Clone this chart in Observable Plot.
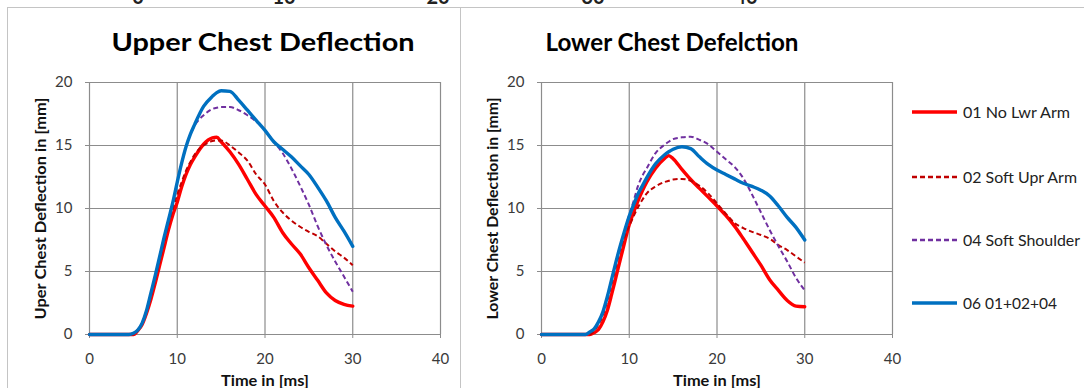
<!DOCTYPE html>
<html><head><meta charset="utf-8">
<script src="https://cdn.jsdelivr.net/npm/d3@7"></script>
<script src="https://cdn.jsdelivr.net/npm/@observablehq/plot@0.6"></script>
<style>
body{margin:0;background:#fff;}
#root{position:relative;width:1084px;height:388px;overflow:hidden;background:#fff;font-family:Lato,sans-serif;}
.panel{position:absolute;border:1px solid #c4c4c4;box-sizing:border-box;}
.abs{position:absolute;}
</style></head><body><div id="root"></div>
<script>
// ---- data ----
const time = [0,4.5,5,5.5,6,6.5,7,7.5,8,8.5,9,9.5,10,10.5,11,11.5,12,13,14,14.5,15,16,17,18,19,20,21,22,23,24,25,26,27,28,29,30];

const upper01 = [0,0,0,0.3,0.8,1.7,2.8,4.1,5.5,6.9,8.3,9.5,10.5,11.7,12.7,13.5,14.1,15.1,15.6,15.65,15.3,14.5,13.5,12.3,11.1,10.2,9.3,8.1,7.2,6.4,5.3,4.3,3.3,2.7,2.4,2.25];
const upper02 = [0,0,0,0.3,0.9,1.8,3.0,4.4,5.8,7.3,8.7,10.0,11.1,12.1,13.0,13.7,14.3,15.0,15.35,15.4,15.4,15.0,14.45,13.8,12.7,11.9,10.6,9.7,9.05,8.55,8.15,7.8,7.2,6.6,6.1,5.5];
const upper04 = [0,0,0.1,0.35,0.9,1.9,3.3,4.7,6.2,7.7,9.1,10.5,12.1,13.6,14.9,15.9,16.6,17.4,17.9,18.0,18.05,18.05,17.8,17.4,16.9,16.2,15.3,14.4,13.2,11.8,10.3,8.6,7.1,5.8,4.6,3.4];
const upper06 = [0,0,0.1,0.35,0.9,1.9,3.3,4.7,6.2,7.7,9.1,10.5,12.1,13.6,14.9,15.9,16.7,18.1,18.9,19.2,19.35,19.3,18.6,17.8,17.0,16.2,15.3,14.7,14.1,13.4,12.7,11.7,10.6,9.3,8.2,7.0];

const lower01 = [0,0,0,0,0.15,0.4,1.0,1.9,3.2,4.6,6.0,7.4,8.7,9.7,10.6,11.4,12.1,13.2,13.95,14.2,13.95,13.1,12.3,11.6,10.9,10.2,9.45,8.6,7.6,6.55,5.5,4.35,3.5,2.7,2.25,2.2];
const lower02 = [0,0,0,0,0.3,0.8,1.5,2.7,4.0,5.4,6.8,7.8,8.6,9.4,10.1,10.7,11.2,11.75,12.1,12.2,12.3,12.35,12.2,11.8,11.2,10.4,9.6,8.85,8.45,8.15,7.9,7.6,7.1,6.7,6.2,5.7];
const lower04 = [0,0,0,0.2,0.45,1.0,1.8,3.0,4.4,5.8,7.1,8.3,9.5,10.6,11.8,12.6,13.2,14.4,15.05,15.3,15.5,15.65,15.7,15.45,15.1,14.5,13.9,13.3,12.4,11.1,9.7,8.3,7.0,5.8,4.5,3.5];
const lower06 = [0,0,0,0.2,0.45,1.0,1.8,3.0,4.4,5.8,7.1,8.3,9.4,10.3,11.15,11.8,12.45,13.55,14.25,14.5,14.7,14.9,14.75,14.1,13.5,13.05,12.7,12.35,12.0,11.75,11.45,11.0,10.2,9.3,8.5,7.5];

const seriesNames = ["01 No Lwr Arm", "02 Soft Upr Arm", "04 Soft Shoulder", "06 01+02+04"];
const seriesColors = ["#ff0000", "#c00000", "#7030a0", "#0070c0"];
const seriesDash = [null, "5,3", "5,3", null];
const seriesWidth = [3.4, 2, 2, 3.4];

const xTicks = [0, 10, 20, 30, 40];
const yTicks = [0, 5, 10, 15, 20];
const titles = ["Upper Chest Deflection", "Lower Chest Defelction"];
const yLabels = ["Uper Chest Deflection in [mm]", "Lower Chest Deflection in [mm]"];
const xLabel = "Time in [ms]";
const topStrip = ["0", "10", "20", "30", "40"];

// ---- build ----
const root = document.getElementById("root");

function addPanelBox(left, width) {
  const d = document.createElement("div");
  d.className = "panel";
  d.style.left = left + "px"; d.style.top = "7px";
  d.style.width = width + "px"; d.style.height = "420px";
  root.appendChild(d);
}
addPanelBox(7, 454);
addPanelBox(460, 700);

function fitText(el, len) {
  el.setAttribute("textLength", len);
  el.setAttribute("lengthAdjust", "spacingAndGlyphs");
}

function makePanel(seriesVals, ylabel, marginLeft, width) {
  const gridStyle = {stroke: "#8c8c8c", strokeOpacity: 1, strokeWidth: 1.2};
  const lines = seriesVals.map((vals, k) =>
    Plot.line(time.map((t, i) => ({t, v: vals[i]})), {
      x: "t", y: "v", curve: "monotone-x",
      stroke: seriesColors[k], strokeWidth: seriesWidth[k],
      strokeDasharray: seriesDash[k] ?? undefined,
      strokeLinejoin: "round", strokeLinecap: seriesDash[k] ? "butt" : "round"
    })
  );
  const chart = Plot.plot({
    width, height: 328,
    marginLeft, marginRight: 20, marginTop: 22, marginBottom: 54,
    style: {fontFamily: "Lato, sans-serif", background: "transparent", overflow: "visible"},
    x: {domain: [0, 40]},
    y: {domain: [0, 20]},
    marks: [
      Plot.gridX(xTicks, gridStyle),
      Plot.gridY(yTicks, gridStyle),
      Plot.axisX(xTicks, {tickSize: 4, tickPadding: 15, fontSize: 15, fill: "#3a3a3a", stroke: "#8c8c8c", label: null}),
      Plot.axisY(yTicks, {tickSize: 4, tickPadding: 13, fontSize: 15, fill: "#3a3a3a", stroke: "#8c8c8c", label: null}),
      Plot.axisX([], {label: xLabel, labelAnchor: "center", labelArrow: "none", labelOffset: 51, fontSize: 16, fontWeight: "bold", fill: "#111", tickSize: 0}),
      Plot.axisY([], {label: ylabel, labelAnchor: "center", labelArrow: "none", labelOffset: 55, fontSize: 15.5, fontWeight: "bold", fill: "#111", tickSize: 0}),
      ...lines
    ]
  });
  // stretch axis labels to the reference's text lengths
  chart.querySelectorAll("text").forEach(t => {
    if (t.textContent === xLabel) fitText(t, 88);
    if (t.textContent === ylabel) fitText(t, 222);
  });
  return chart;
}

const left = makePanel([upper01, upper02, upper04, upper06], yLabels[0], 89, 460);
left.classList.add("abs"); left.style.left = "0px"; left.style.top = "60px";
root.appendChild(left);

const right = makePanel([lower01, lower02, lower04, lower06], yLabels[1], 81, 452);
right.classList.add("abs"); right.style.left = "460px"; right.style.top = "60px";
root.appendChild(right);

// overlay for titles, legend, cut-off strip
const svg = d3.select(root).append("svg")
  .attr("class", "abs").attr("width", 1084).attr("height", 388)
  .style("left", "0px").style("top", "0px").style("pointer-events", "none")
  .style("font-family", "Lato, sans-serif");

const stripX = [138, 284, 438, 593, 746];
svg.selectAll("text.strip").data(topStrip).join("text")
  .attr("x", (d, i) => stripX[i]).attr("y", 4)
  .attr("text-anchor", "middle").attr("font-size", 20).attr("font-weight", "bold")
  .attr("fill", "#222").text(d => d);

const titleX = [263, 672];
const titleLen = [303, 253];
svg.selectAll("text.title").data(titles).join("text")
  .attr("x", (d, i) => titleX[i]).attr("y", 51)
  .attr("text-anchor", "middle").attr("font-size", 25).attr("font-weight", "bold")
  .attr("textLength", (d, i) => titleLen[i]).attr("lengthAdjust", "spacingAndGlyphs")
  .attr("fill", "#000").text(d => d);

const legY = [112, 177, 240, 303];
const legLen = [107, 114, 117, 94];
const leg = svg.append("g");
seriesNames.forEach((name, k) => {
  leg.append("line").attr("x1", 912).attr("x2", 957).attr("y1", legY[k]).attr("y2", legY[k])
    .attr("stroke", seriesColors[k]).attr("stroke-width", seriesDash[k] ? 2.4 : 3.6)
    .attr("stroke-dasharray", seriesDash[k]);
  leg.append("text").attr("x", 963).attr("y", legY[k]).attr("dy", "0.36em")
    .attr("font-size", 15.5).attr("fill", "#222")
    .attr("textLength", legLen[k]).attr("lengthAdjust", "spacingAndGlyphs").text(name);
});
</script>
</body></html>
